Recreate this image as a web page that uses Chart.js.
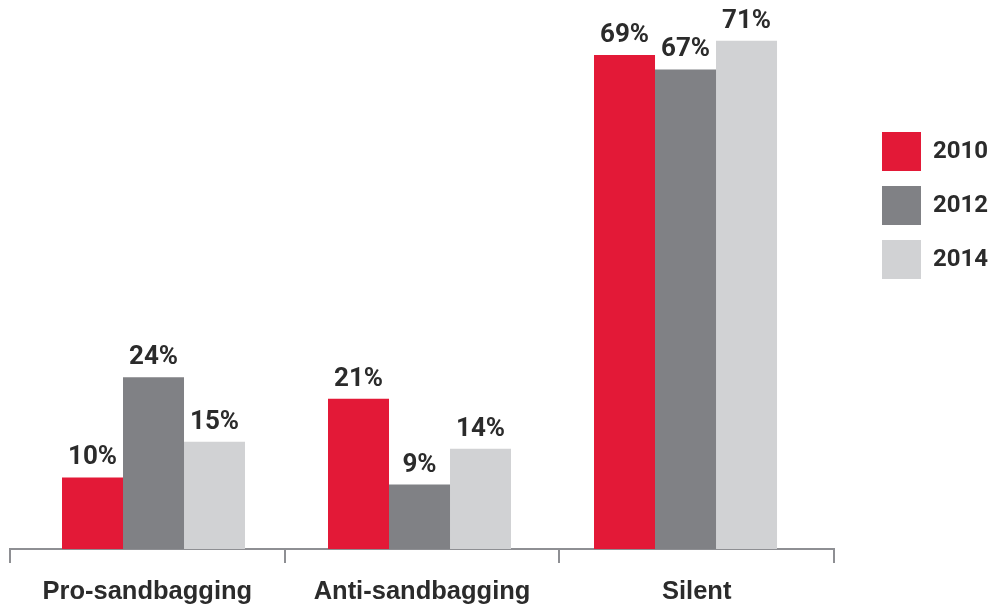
<!DOCTYPE html>
<html>
<head>
<meta charset="utf-8">
<script src="https://cdn.jsdelivr.net/npm/chart.js@4.4.1/dist/chart.umd.min.js"></script>
<style>
  html, body { margin: 0; padding: 0; background: #fff; }
</style>
</head>
<body>
<canvas id="chart" width="990" height="606"></canvas>
<script>
// --- data ---
const categories = ['Pro-sandbagging', 'Anti-sandbagging', 'Silent'];
const years = ['2010', '2012', '2014'];
const values2010 = [10, 21, 69];
const values2012 = [24, 9, 67];
const values2014 = [15, 14, 71];

const yearColors = ['#e31937', '#808185', '#d1d2d4'];
const textColor = '#2b2b2b';
const axisColor = '#8e8f93';

// grouped bars sit on a hidden linear axis (one unit per category)
const toPoints = vals => vals.map((v, i) => ({ x: i, y: v }));

const datasets = [values2010, values2012, values2014].map((vals, i) => ({
    label: years[i],
    data: toPoints(vals),
    xAxisID: 'xBars',
    backgroundColor: yearColors[i],
    borderColor: yearColors[i],
    borderWidth: 0,
    categoryPercentage: 0.688,
    barPercentage: 1
}));

// percent labels above each bar
const valueLabels = {
    id: 'valueLabels',
    afterDatasetsDraw(chart) {
        const ctx = chart.ctx;
        ctx.save();
        ctx.font = 'bold 26px Roboto';
        ctx.fillStyle = textColor;
        ctx.textAlign = 'center';
        ctx.textBaseline = 'alphabetic';
        chart.data.datasets.forEach((ds, i) => {
            chart.getDatasetMeta(i).data.forEach((bar, j) => {
                ctx.fillText(ds.data[j].y + '%', bar.x, bar.y - 13);
            });
        });
        ctx.restore();
    }
};

new Chart(document.getElementById('chart'), {
    type: 'bar',
    data: { labels: categories, datasets },
    plugins: [valueLabels],
    options: {
        responsive: false,
        animation: false,
        layout: { padding: { left: 10, right: 0, top: 0, bottom: 0 } },
        plugins: {
            tooltip: { enabled: false },
            legend: {
                position: 'right',
                align: 'start',
                maxWidth: 123,
                title: { display: true, text: '', padding: { top: 107, bottom: 0 }, font: { size: 10, lineHeight: 1 } },
                labels: {
                    boxWidth: 39,
                    boxHeight: 39,
                    padding: 15,
                    color: textColor,
                    font: { family: 'Roboto', size: 24, weight: 'bold' }
                }
            }
        },
        scales: {
            x: {
                type: 'category',
                position: 'bottom',
                offset: true,
                grid: { offset: true, drawOnChartArea: false, drawTicks: true, tickLength: 14, color: axisColor, lineWidth: 2 },
                border: { display: true, color: axisColor, width: 2 },
                ticks: { color: textColor, padding: 14, maxRotation: 0, autoSkip: false, font: { family: '"Liberation Sans", Arial, sans-serif', size: 25.5, weight: 'bold' } },
                afterFit: s => { s.height = 57; }
            },
            xBars: {
                type: 'linear',
                display: false,
                offset: false,
                min: -0.5395,
                max: 2.5582,
                afterBuildTicks: s => { s.ticks = [0, 1, 2].map(v => ({ value: v })); }
            },
            y: {
                position: 'right',
                min: 0,
                max: 76.7,
                ticks: { display: false },
                grid: { display: false },
                border: { display: false },
                afterFit: s => { s.width = 33; }
            }
        }
    }
});
</script>
</body>
</html>
